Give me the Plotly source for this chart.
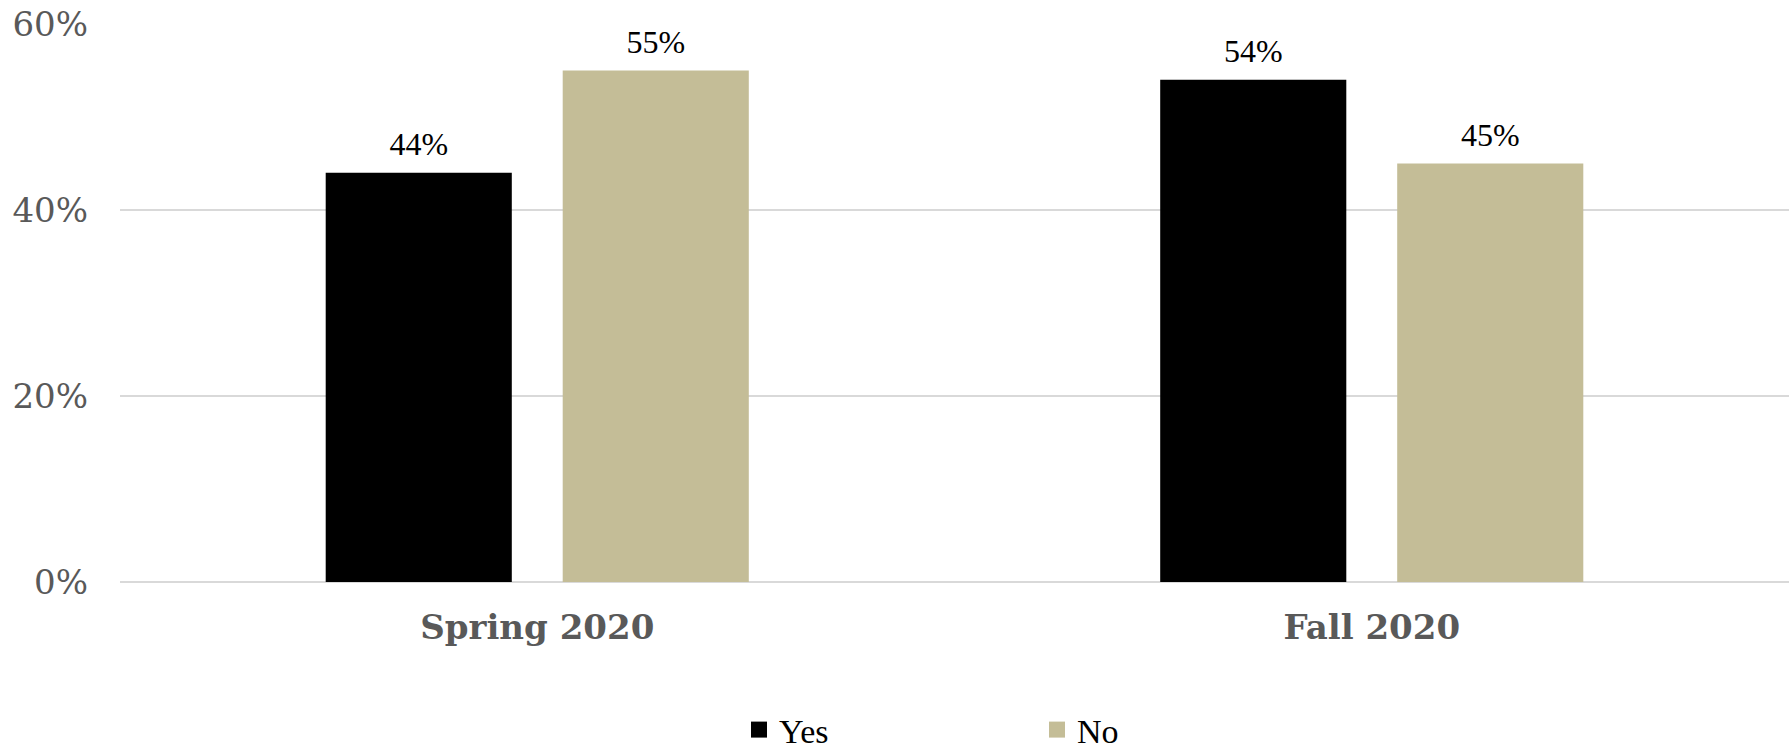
import plotly.graph_objects as go

categories = ["Spring 2020", "Fall 2020"]
yes_values = [0.44, 0.54]
no_values = [0.55, 0.45]
y_ticks = [0, 0.2, 0.4, 0.6]
y_tick_labels = ["0%", "20%", "40%", "60%"]

serif = "Georgia, 'DejaVu Serif', serif"
times = "'Liberation Serif', 'Times New Roman', serif"

bar_width = 0.223
offsets = {"Yes": -0.2535, "No": 0.0305}
colors = {"Yes": "#000000", "No": "#C4BD97"}
series = {"Yes": yes_values, "No": no_values}
xpos = list(range(len(categories)))

fig = go.Figure()
for name in ["Yes", "No"]:
    fig.add_trace(go.Bar(
        name=name, x=xpos, y=series[name],
        marker=dict(color=colors[name], line=dict(width=0)),
        width=bar_width, offset=offsets[name],
        hoverinfo="skip", showlegend=False, legendgroup=name,
    ))
for name in ["Yes", "No"]:
    fig.add_trace(go.Scatter(
        x=[i + offsets[name] + bar_width / 2 for i in xpos],
        y=series[name],
        mode="markers+text",
        marker=dict(size=14, opacity=0),
        text=[f"{v:.0%}" for v in series[name]],
        textposition="top center",
        textfont=dict(family=times, size=32, color="#000000"),
        showlegend=False, hoverinfo="skip", cliponaxis=False,
    ))
# legend entries (square swatches)
for name in ["Yes", "No"]:
    fig.add_trace(go.Scatter(
        x=[None], y=[None], mode="markers", name=name, legendgroup=name,
        marker=dict(symbol="square", size=16, color=colors[name], line=dict(width=0)),
        showlegend=True,
    ))

fig.update_layout(
    width=1789, height=749,
    margin=dict(l=120, r=0, t=24, b=167, autoexpand=False),
    plot_bgcolor="white", paper_bgcolor="white",
    barmode="overlay",
    showlegend=True,
    legend=dict(
        orientation="h",
        x=(739 - 120) / 1669, xanchor="left",
        y=-148 / 558, yanchor="middle",
        font=dict(family=times, size=34, color="#000000"),
        entrywidth=253, entrywidthmode="pixels",
        itemsizing="trace",
        bgcolor="rgba(0,0,0,0)",
    ),
    xaxis=dict(
        range=[-0.5, len(categories) - 0.5], automargin=False,
        tickvals=xpos, ticktext=categories,
        tickfont=dict(family=serif, size=34, color="#595959", weight="bold"),
        showgrid=False, showline=False, zeroline=False, ticks="",
        ticklabelstandoff=22,
    ),
    yaxis=dict(
        range=[0, 0.6], automargin=False,
        tickvals=y_ticks, ticktext=y_tick_labels,
        tickfont=dict(family=serif, size=34, color="#595959"),
        showgrid=True, gridcolor="#D9D9D9", gridwidth=1.5,
        zeroline=True, zerolinecolor="#D9D9D9", zerolinewidth=1.5,
        showline=False, ticks="",
        ticklabelstandoff=31,
    ),
)

fig.write_html(
    "out.html",
    config={"displayModeBar": False},
    post_script="document.body.style.margin='0';document.body.style.overflow='hidden';",
)
